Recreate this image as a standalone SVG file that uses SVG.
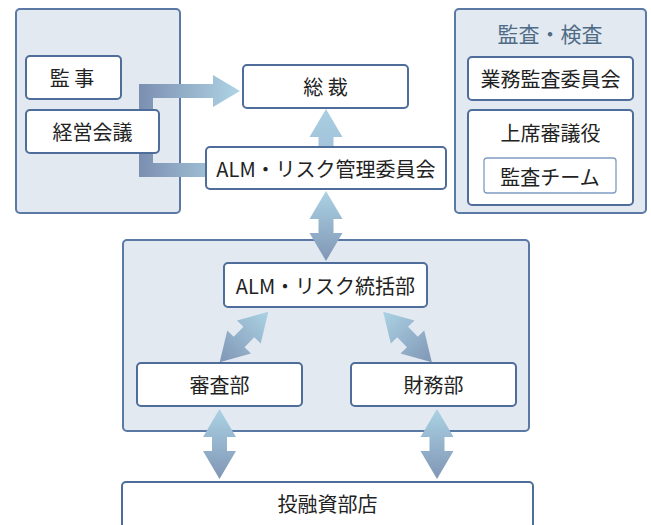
<svg xmlns="http://www.w3.org/2000/svg" width="651" height="525" viewBox="0 0 651 525">
<defs>
<style>
.panel{fill:#e2e9f1;stroke:#5a79a5;stroke-width:2}
.box{fill:#ffffff;stroke:#4e6d9a;stroke-width:2}
.sub{fill:#ffffff;stroke:#7f9cc1;stroke-width:1.3}
text{font-family:"Noto Sans CJK JP","Noto Sans",sans-serif;font-size:20px;fill:#222;text-anchor:middle;dominant-baseline:central}
.title{fill:#4f6c86;font-size:21px}
</style>
<linearGradient id="gv" x1="0" y1="0" x2="0" y2="1">
<stop offset="0" stop-color="#abd2e4"/>
<stop offset="1" stop-color="#8096b5"/>
</linearGradient>
<linearGradient id="gup" x1="0" y1="0" x2="0" y2="1">
<stop offset="0" stop-color="#a9cfe2"/>
<stop offset="1" stop-color="#a3c3da"/>
</linearGradient>
<linearGradient id="gh" gradientUnits="userSpaceOnUse" x1="139" y1="0" x2="240" y2="0">
<stop offset="0" stop-color="#7b8fb0"/>
<stop offset="1" stop-color="#afd4e5"/>
</linearGradient>
<path id="dbl" d="M0,-35 L16.5,-7 L7.5,-7 L7.5,7 L16.5,7 L0,35 L-16.5,7 L-7.5,7 L-7.5,-7 L-16.5,-7 Z" fill="url(#gv)"/>
</defs>

<g id="panel-left"><rect class="panel" x="16" y="9" width="164" height="204" rx="4"/></g>
<g id="panel-audit">
<rect class="panel" x="455" y="9" width="191" height="204" rx="4"/>
<text class="title" x="550" y="33">監査・検査</text>
</g>
<g id="panel-mid"><rect class="panel" x="123" y="240" width="406" height="191" rx="4"/></g>

<g id="connectors">
<path d="M205,163 L153,163 L153,98 L213,98 L213,107 L240,91 L213,75 L213,84 L139,84 L139,177 L205,177 Z" fill="url(#gh)"/>
<path d="M326,109 L342.5,137 L333.5,137 L333.5,147 L318.5,147 L318.5,137 L309.5,137 Z" fill="url(#gup)"/>
<use href="#dbl" transform="translate(326,226)"/>
<use href="#dbl" transform="translate(244,337) rotate(44)"/>
<use href="#dbl" transform="translate(407.5,337) rotate(-44)"/>
<use href="#dbl" transform="translate(219.5,444)"/>
<use href="#dbl" transform="translate(437,444)"/>
</g>

<g id="kansa"><rect class="box" x="26" y="56" width="95" height="43" rx="4"/><text x="72" y="77.5">監 事</text></g>
<g id="keiei"><rect class="box" x="26" y="110" width="133" height="43" rx="4"/><text x="92.5" y="131.5">経営会議</text></g>
<g id="sosai"><rect class="box" x="243" y="65" width="165" height="43" rx="4"/><text x="325.5" y="86.5">総 裁</text></g>
<g id="alm-committee"><rect class="box" x="206" y="147" width="240" height="42" rx="4"/><text x="326" y="168">ALM・リスク管理委員会</text></g>
<g id="gyomu"><rect class="box" x="468" y="57" width="165" height="43" rx="4"/><text x="550.5" y="78.5">業務監査委員会</text></g>
<g id="joseki">
<rect class="box" x="468" y="110" width="165" height="95" rx="4"/>
<text x="550.5" y="132">上席審議役</text>
<g id="kansa-team"><rect class="sub" x="484" y="158" width="132" height="35" rx="3"/><text x="550" y="176">監査チーム</text></g>
</g>
<g id="alm-dept"><rect class="box" x="224" y="263" width="203" height="44" rx="4"/><text x="325.5" y="285">ALM・リスク統括部</text></g>
<g id="shinsa"><rect class="box" x="137" y="363" width="165" height="43" rx="4"/><text x="219.5" y="384.5">審査部</text></g>
<g id="zaimu"><rect class="box" x="351" y="363" width="165" height="43" rx="4"/><text x="433.5" y="384.5">財務部</text></g>
<g id="branches"><rect class="box" x="122" y="482" width="411" height="60" rx="4"/><text x="327.5" y="503.5">投融資部店</text></g>
</svg>
